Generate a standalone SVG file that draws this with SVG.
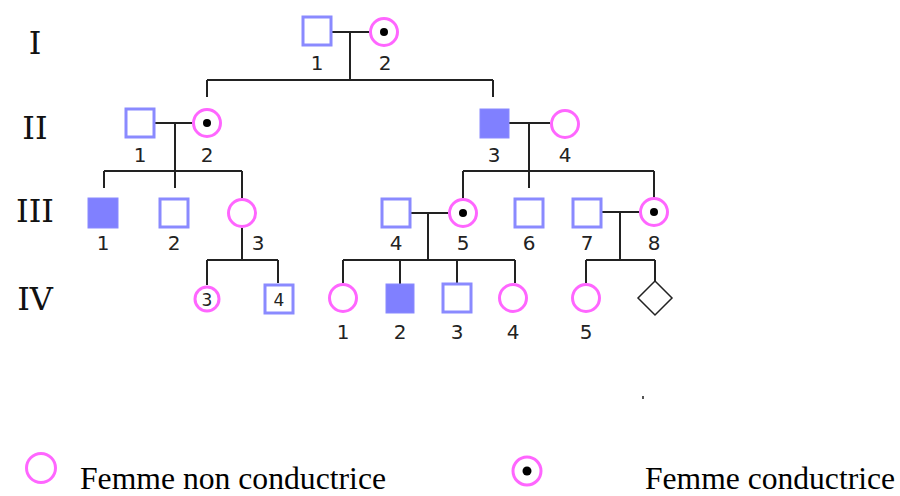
<svg xmlns="http://www.w3.org/2000/svg" width="900" height="496" viewBox="0 0 900 496">
<style>
.sq{fill:#fff;stroke:#8a8aff;stroke-width:3}
.sqa{fill:#8080ff;stroke:#8a8aff;stroke-width:1}
.ci{fill:#fff;stroke:#ff66ff;stroke-width:3}
.dot{fill:#000}
.ln{stroke:#222;stroke-width:2;fill:none}
.num{font-family:"DejaVu Sans",Verdana,sans-serif;font-size:20px;fill:#222;text-anchor:middle}
.gen{font-family:"DejaVu Serif","Liberation Serif",serif;font-size:32px;fill:#111;text-anchor:middle}
.leg{font-family:"Liberation Serif","Times New Roman",serif;font-size:31px;fill:#000}
</style>
<rect width="900" height="496" fill="#fff"/>
<g id="connectors" class="ln">
<path d="M332 32H369M350 32V80M207 80H493M207 80V97M493 80V97"/>
<path d="M155 123H192M175 123V188M104 171H242M104 171V188M242 171V198"/>
<path d="M509 123H550M529 123V188M463 171H654M463 171V198M654 171V198"/>
<path d="M242 228V260M207 260H278M207 260V285M278 260V283"/>
<path d="M411 213H448M428 213V260M343 260H515M343 260V283M400 260V284M457 260V283M515 260V283"/>
<path d="M602 212H639M620 212V260M586 260H655M586 260V283M655 260V281"/>
</g>
<g id="gen-labels">
<text class="gen" x="35" y="54">I</text>
<text class="gen" x="35" y="139">II</text>
<text class="gen" x="35" y="222">III</text>
<text class="gen" x="35" y="310">IV</text>
</g>
<g id="I-1"><rect class="sq" x="303" y="17" width="28" height="28"/><text class="num" x="317" y="70">1</text></g>
<g id="I-2"><circle class="ci" cx="384" cy="32" r="13.5"/><circle class="dot" cx="384" cy="32" r="4"/><text class="num" x="385" y="70">2</text></g>
<g id="II-1"><rect class="sq" x="126" y="109" width="28" height="28"/><text class="num" x="140" y="162">1</text></g>
<g id="II-2"><circle class="ci" cx="207" cy="123" r="13.5"/><circle class="dot" cx="207" cy="123" r="4"/><text class="num" x="207" y="162">2</text></g>
<g id="II-3"><rect class="sqa" x="480" y="109" width="29" height="29"/><text class="num" x="494" y="162">3</text></g>
<g id="II-4"><circle class="ci" cx="565" cy="124" r="13.5"/><text class="num" x="565" y="162">4</text></g>
<g id="III-1"><rect class="sqa" x="88" y="198" width="30" height="30"/><text class="num" x="103" y="250">1</text></g>
<g id="III-2"><rect class="sq" x="160" y="199" width="28" height="28"/><text class="num" x="174" y="250">2</text></g>
<g id="III-3"><circle class="ci" cx="242" cy="213" r="13.5"/><text class="num" x="258" y="250">3</text></g>
<g id="III-4"><rect class="sq" x="382" y="199" width="28" height="28"/><text class="num" x="396" y="250">4</text></g>
<g id="III-5"><circle class="ci" cx="463" cy="213" r="13.5"/><circle class="dot" cx="463" cy="213" r="4"/><text class="num" x="463" y="250">5</text></g>
<g id="III-6"><rect class="sq" x="515" y="199" width="28" height="28"/><text class="num" x="529" y="250">6</text></g>
<g id="III-7"><rect class="sq" x="573" y="199" width="28" height="28"/><text class="num" x="587" y="250">7</text></g>
<g id="III-8"><circle class="ci" cx="654" cy="212" r="13.5"/><circle class="dot" cx="654" cy="212" r="4"/><text class="num" x="654" y="250">8</text></g>
<g id="IV-3a"><circle class="ci" cx="207" cy="299" r="12"/><text class="num" x="207" y="306" style="font-size:17px">3</text></g>
<g id="IV-4a"><rect class="sq" x="265" y="285" width="28" height="28"/><text class="num" x="279" y="306" style="font-size:17px">4</text></g>
<g id="IV-1"><circle class="ci" cx="343" cy="298" r="13.5"/><text class="num" x="343" y="339">1</text></g>
<g id="IV-2"><rect class="sqa" x="386" y="284" width="28" height="29"/><text class="num" x="400" y="339">2</text></g>
<g id="IV-3"><rect class="sq" x="443" y="284" width="28" height="28"/><text class="num" x="457" y="339">3</text></g>
<g id="IV-4"><circle class="ci" cx="513" cy="298" r="13.5"/><text class="num" x="513" y="339">4</text></g>
<g id="IV-5"><circle class="ci" cx="586" cy="298" r="13.5"/><text class="num" x="586" y="339">5</text></g>
<g id="IV-6"><path d="M655 281L672 298L655 315L638 298Z" fill="#fff" stroke="#222" stroke-width="1.5"/></g>
<rect x="642" y="396" width="2" height="3" fill="#555"/>
<g id="legend-1"><circle class="ci" cx="41" cy="468" r="14.5" stroke-width="3.5"/><text class="leg" x="80" y="489" textLength="306" lengthAdjust="spacingAndGlyphs">Femme non conductrice</text></g>
<g id="legend-2"><circle class="ci" cx="527" cy="471" r="14" stroke-width="3.5"/><circle class="dot" cx="527" cy="471" r="4.5"/><text class="leg" x="645" y="489" textLength="250" lengthAdjust="spacingAndGlyphs">Femme conductrice</text></g>
</svg>
